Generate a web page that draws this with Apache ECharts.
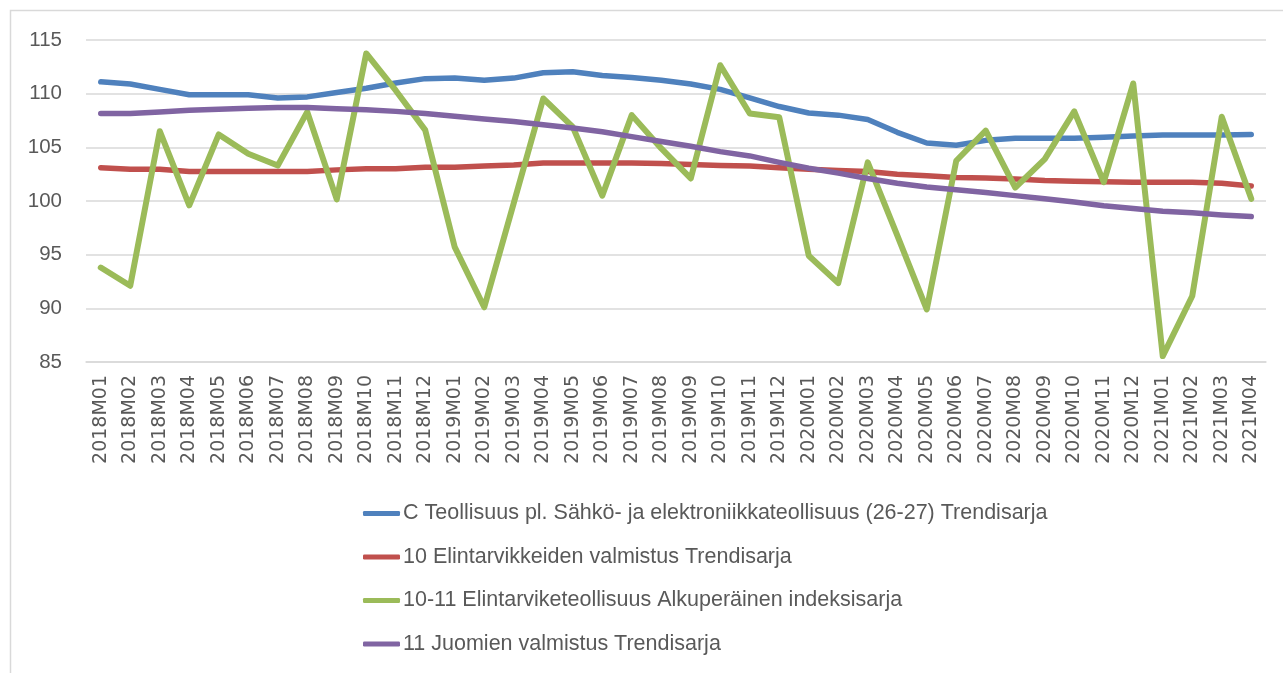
<!DOCTYPE html>
<html>
<head>
<meta charset="utf-8">
<script src="https://cdn.jsdelivr.net/npm/echarts@6/dist/echarts.min.js"></script>
<style>
html,body{margin:0;padding:0;background:#fff;}
#chart{width:1283px;height:673px;}
</style>
</head>
<body>
<div id="chart"></div>
<script>
const categories = ["2018M01","2018M02","2018M03","2018M04","2018M05","2018M06","2018M07","2018M08","2018M09","2018M10","2018M11","2018M12",
"2019M01","2019M02","2019M03","2019M04","2019M05","2019M06","2019M07","2019M08","2019M09","2019M10","2019M11","2019M12",
"2020M01","2020M02","2020M03","2020M04","2020M05","2020M06","2020M07","2020M08","2020M09","2020M10","2020M11","2020M12",
"2021M01","2021M02","2021M03","2021M04"];

const seriesNames = [
  "C Teollisuus pl. Sähkö- ja elektroniikkateollisuus (26-27) Trendisarja",
  "10 Elintarvikkeiden valmistus Trendisarja",
  "10-11 Elintarviketeollisuus Alkuperäinen indeksisarja",
  "11 Juomien valmistus Trendisarja"
];

const teollisuus = [111.1,110.9,110.4,109.9,109.9,109.9,109.6,109.7,110.1,110.5,111.0,111.4,
111.45,111.25,111.45,111.95,112.05,111.7,111.5,111.25,110.9,110.4,109.6,108.8,
108.2,108.0,107.6,106.4,105.4,105.2,105.65,105.85,105.85,105.85,105.95,106.05,
106.15,106.15,106.15,106.2];

const elintarvikkeet = [103.1,102.95,102.95,102.75,102.75,102.75,102.75,102.75,102.9,103.0,103.0,103.15,
103.15,103.25,103.35,103.55,103.55,103.55,103.55,103.5,103.4,103.3,103.25,103.1,
102.95,102.85,102.75,102.5,102.35,102.2,102.15,102.05,101.9,101.85,101.8,101.75,
101.75,101.75,101.65,101.4];

const elintarviketeollisuus = [93.8,92.1,106.5,99.6,106.2,104.4,103.3,108.3,100.15,113.75,110.3,106.6,
95.7,90.1,99.8,109.55,106.9,100.5,108.0,104.9,102.1,112.65,108.15,107.8,
94.9,92.35,103.6,96.8,89.9,103.75,106.55,101.25,103.9,108.35,101.75,110.95,
85.55,91.15,107.85,100.2];

const juomat = [108.15,108.15,108.3,108.45,108.55,108.65,108.7,108.7,108.6,108.5,108.35,108.15,
107.9,107.65,107.4,107.1,106.8,106.45,106.0,105.55,105.1,104.6,104.2,103.6,
103.05,102.6,102.1,101.65,101.3,101.05,100.8,100.5,100.2,99.9,99.55,99.3,
99.05,98.9,98.7,98.55];

const yTicks = {min: 85, max: 115, interval: 5};
const colors = ["#4F81BD","#C0504D","#9BBB59","#8064A2"];
const values = [teollisuus, elintarvikkeet, elintarviketeollisuus, juomat];

const chart = echarts.init(document.getElementById('chart'), null, {renderer:'canvas'});
chart.setOption({
  backgroundColor:'#ffffff',
  animation:false,
  graphic:[{type:'rect', shape:{x:10.5,y:10.5,width:1290,height:680}, style:{fill:'none',stroke:'#d9d9d9',lineWidth:1.5}, silent:true}],
  grid:{left:86,right:17,top:40,bottom:311},
  xAxis:{
    type:'category', data:categories, boundaryGap:true,
    axisLine:{show:true, lineStyle:{color:'#d9d9d9', width:1.5}},
    axisTick:{show:false},
    axisLabel:{rotate:90, interval:0, color:'#595959', fontFamily:'DejaVu Sans', fontSize:19, margin:13}
  },
  yAxis:{
    type:'value', min:yTicks.min, max:yTicks.max, interval:yTicks.interval,
    axisLine:{show:false}, axisTick:{show:false},
    splitLine:{lineStyle:{color:'#d9d9d9', width:1.5}},
    axisLabel:{color:'#595959', fontFamily:'Liberation Sans', fontSize:20.5, margin:24}
  },
  legend:{
    orient:'vertical', left:358, top:496,
    itemWidth:37, itemHeight:5, itemGap:18.5,
    icon:'roundRect',
    textStyle:{color:'#595959', fontFamily:'Liberation Sans', fontSize:21.5, padding:[0,0,0,-2], lineHeight:25},
    data:seriesNames
  },
  series: seriesNames.map((n,i)=>({
    name:n, type:'line', data:values[i], symbol:'none', smooth:false,
    itemStyle:{color:colors[i]},
    lineStyle:{color:colors[i], width:(i===2?6:5.5), cap:'round', join:'round'}
  }))
});
</script>
</body>
</html>
